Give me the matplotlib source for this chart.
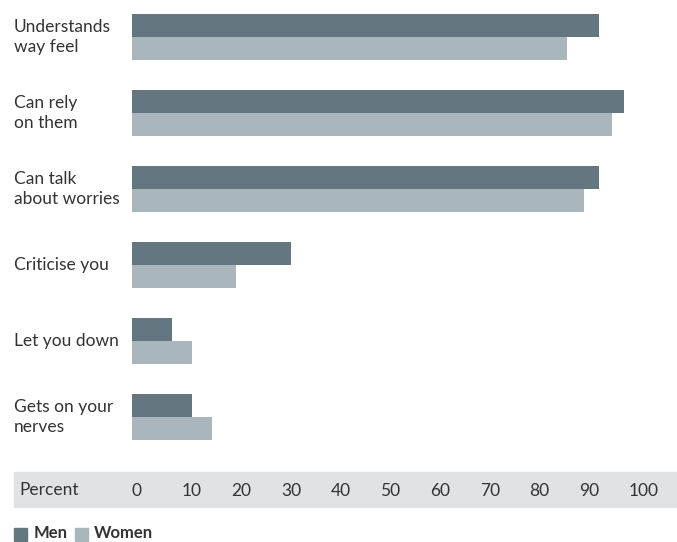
import matplotlib.pyplot as plt
from matplotlib.patches import Rectangle
import numpy as np

plt.rcParams['font.family'] = ['Lato', 'DejaVu Sans']

categories = ["Understands\nway feel", "Can rely\non them", "Can talk\nabout worries",
              "Criticise you", "Let you down", "Gets on your\nnerves"]
men = [94, 99, 94, 32, 8, 12]
women = [87.5, 96.5, 91, 21, 12, 16]
ticks = [0, 10, 20, 30, 40, 50, 60, 70, 80, 90, 100]

men_color = "#647780"
women_color = "#a9b7bd"
text_color = "#333333"

W, H = 677, 542
fig = plt.figure(figsize=(W / 100, H / 100), dpi=100)

# axes area in pixels: left 132, top 0, bottom 448
ax = fig.add_axes([132 / W, (H - 448) / H, (W - 132) / W, 448 / H])
y = np.arange(len(categories))
h = 23 / 76
ax.barh(y - h / 2, men, height=h, color=men_color)
ax.barh(y + h / 2, women, height=h, color=women_color)
ax.set_ylim((448 - 37) / 76, -37 / 76)
ax.set_xlim(0, (W - 132) / 4.97)
for s in ax.spines.values():
    s.set_visible(False)
ax.set_yticks([])

# percent scale sits in a grey band under the bars
fig.patches.append(Rectangle((14 / W, (H - 507) / H), (W - 14) / W, 35 / H,
                             transform=fig.transFigure, color="#e1e2e3", zorder=-1))
ax.set_xticks(ticks)
ax.set_xticklabels([str(t) for t in ticks], ha="left")
ax.tick_params(axis="x", length=0, pad=25, labelsize=12.5, labelcolor=text_color)
fig.text(19 / W, 1 - 490 / H, "Percent", fontsize=12.5, color=text_color, va="center")

for i, lab in enumerate(categories):
    fig.text(14 / W, 1 - (37 + 76 * i) / H, lab, fontsize=12.5, color=text_color,
             va="center", ha="left", linespacing=1.25)

# legend
fig.patches.append(Rectangle((14 / W, 1 - 541 / H), 13 / W, 13 / H,
                             transform=fig.transFigure, color=men_color))
fig.text(34 / W, 1 - 533 / H, "Men", fontsize=12, fontweight="bold", color=text_color, va="center")
fig.patches.append(Rectangle((75 / W, 1 - 541 / H), 13 / W, 13 / H,
                             transform=fig.transFigure, color=women_color))
fig.text(94 / W, 1 - 533 / H, "Women", fontsize=12, fontweight="bold", color=text_color, va="center")

fig.savefig("out.png", dpi=100)
